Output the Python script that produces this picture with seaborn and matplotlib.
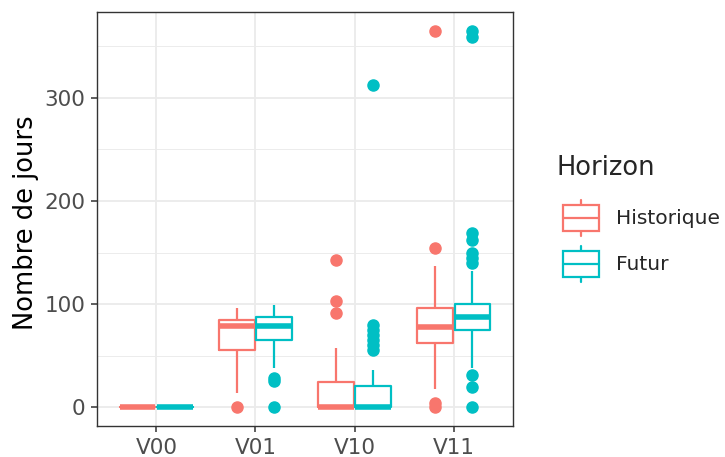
import matplotlib
matplotlib.use("Agg")
import numpy as np
import pandas as pd
import matplotlib.pyplot as plt
import seaborn as sns
from matplotlib.legend_handler import HandlerBase
from matplotlib.patches import Rectangle, Patch
from matplotlib.lines import Line2D
from matplotlib.ticker import FixedLocator

# ---------------- data ----------------
categories = ["V00", "V01", "V10", "V11"]
horizons = ["Historique", "Futur"]
colors = ["#F8766D", "#00BFC4"]

v00_hist = [0, 0, 0, 0, 0, 0, 0, 0, 0]
v00_fut = [0, 0, 0, 0, 0, 0, 0, 0, 0]
v01_hist = [0, 14, 30, 42, 50, 55, 62, 68, 72, 76, 79, 80, 81, 82, 84, 85, 87, 89, 91, 93, 96]
v01_fut = [0, 25, 28, 38, 55, 65, 70, 73, 75, 77, 79, 80, 82, 83, 85, 87, 89, 91, 93, 96, 99]
v10_hist = [0, 0, 0, 0, 0, 0, 0, 0, 0, 0, 0, 5, 10, 15, 20, 24, 35, 57, 91, 103, 143]
v10_fut = [0, 0, 0, 0, 0, 0, 0, 0, 0, 0, 0, 0, 0, 0, 0, 0, 0,
           3, 6, 9, 12, 15, 17, 19, 21, 36, 55, 60, 65, 70, 75, 80, 312]
v11_hist = [0, 4, 18, 40, 55, 62, 66, 70, 73, 76, 78, 82, 86, 90, 93, 96, 105, 115, 137, 154, 365]
v11_fut = [0, 20, 31, 38, 50, 58, 63, 67, 70, 73, 75, 77, 78, 79, 80, 82, 83, 84, 85, 86, 87,
           88, 89, 90, 91, 93, 94, 96, 97, 99, 100, 110, 120, 132, 140, 145, 150, 162, 169, 359, 365]

series = {
    ("V00", "Historique"): v00_hist, ("V00", "Futur"): v00_fut,
    ("V01", "Historique"): v01_hist, ("V01", "Futur"): v01_fut,
    ("V10", "Historique"): v10_hist, ("V10", "Futur"): v10_fut,
    ("V11", "Historique"): v11_hist, ("V11", "Futur"): v11_fut,
}
rows = []
for (cat, hz), vals in series.items():
    for v in vals:
        rows.append({"Classe": cat, "Horizon": hz, "Jours": v})
df = pd.DataFrame(rows)

# ---------------- style ----------------
sns.set_style("white")
plt.rcParams["font.family"] = ["DejaVu Sans"]

W, H = 725, 457
fig = plt.figure(figsize=(W / 100, H / 100), dpi=100)
ax = fig.add_axes([97 / W, 1 - 426 / H, (513 - 97) / W, (426 - 12) / H])

LW = 1.6
sns.boxplot(data=df, x="Classe", y="Jours", hue="Horizon", order=categories,
            hue_order=horizons, palette=colors, fill=False, saturation=1,
            width=0.75, gap=0.05, linewidth=LW, whis=1.5, fliersize=8,
            legend=False, ax=ax, showcaps=False,
            flierprops=dict(marker="o"),
            medianprops=dict(linewidth=LW * 2.5))

for ln in ax.lines:
    if ln.get_marker() == "o":
        c = ln.get_markeredgecolor()
        ln.set_markerfacecolor(c)
        ln.set_markeredgecolor(c)

ax.set_xlim(-0.6, 3.6)
ax.set_ylim(-18.25, 383.25)
ax.yaxis.set_major_locator(FixedLocator([0, 100, 200, 300]))
ax.yaxis.set_minor_locator(FixedLocator([50, 150, 250, 350]))
ax.set_axisbelow(True)
ax.grid(which="major", color="#EBEBEB", linewidth=1.3)
ax.grid(which="minor", axis="y", color="#EBEBEB", linewidth=0.65)
ax.tick_params(which="minor", length=0)
ax.tick_params(which="major", direction="out", length=4.5, width=1.1, color="#333333",
               labelcolor="#4D4D4D", labelsize=15.5, pad=4,
               left=True, bottom=True)
for sp in ax.spines.values():
    sp.set_color("#333333")
    sp.set_linewidth(1.0)

ax.set_xlabel("")
ax.set_ylabel("Nombre de jours", fontsize=18.5, color="black")
ax.yaxis.set_label_coords(-0.14, 0.49)


class BoxHandler(HandlerBase):
    def create_artists(self, legend, orig_handle, xdescent, ydescent, width, height,
                       fontsize, trans):
        c = orig_handle.get_edgecolor()
        inset = 5.0
        x0, y0 = -xdescent + inset, -ydescent
        w = width - inset
        bh = height * 0.65
        by = y0 + (height - bh) / 2
        xm = x0 + w / 2
        rect = Rectangle((x0, by), w, bh, facecolor="white", edgecolor=c,
                         lw=LW, transform=trans)
        med = Line2D([x0, x0 + w], [y0 + height / 2] * 2, color=c, lw=LW,
                     transform=trans)
        w1 = Line2D([xm, xm], [y0 + 1.5, by], color=c, lw=LW, transform=trans)
        w2 = Line2D([xm, xm], [by + bh, y0 + height - 1.5], color=c, lw=LW,
                    transform=trans)
        return [w1, w2, rect, med]


handles = [Patch(edgecolor=c, facecolor="white") for c in colors]
fs_leg = 14.6
fs_px = fs_leg * 100 / 72
key_h = 40 / fs_px
hh = (key_h - 0.245) / 0.65
leg = fig.legend(handles, horizons, title="Horizon", loc="upper left",
                 bbox_to_anchor=(556.5 / W, 1 - 155 / H), frameon=False,
                 fontsize=fs_leg, title_fontsize=18.5, borderpad=0, borderaxespad=0,
                 handlelength=42 / fs_px, handleheight=hh,
                 labelspacing=6 / fs_px, handletextpad=17 / fs_px,
                 handler_map={Patch: BoxHandler()})
leg._legend_box.align = "left"
leg._legend_box.sep = 17 * 0.72

fig.savefig("out.png", dpi=100)
